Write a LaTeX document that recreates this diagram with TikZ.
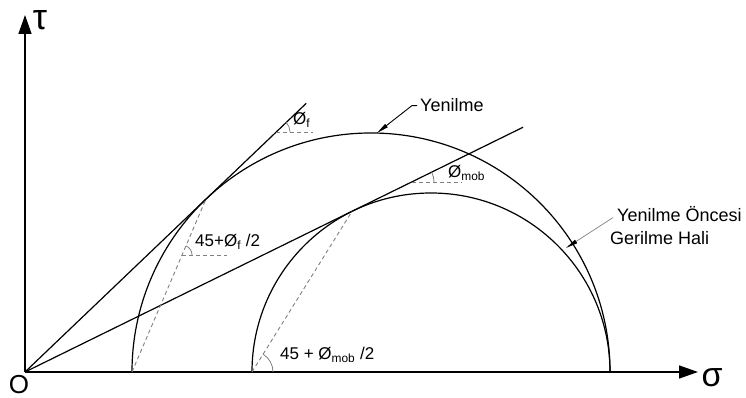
\documentclass[tikz,border=0pt]{standalone}
\usepackage{fontspec}
\setmainfont{Liberation Sans}
\usetikzlibrary{arrows.meta}
\begin{document}
\begin{tikzpicture}[x=1pt,y=1pt,
    axis/.style={line width=1.4pt,-{Triangle[length=19pt,width=13pt]}},
    mohr/.style={line width=1.2pt},
    aux/.style={gray,line width=0.9pt,dash pattern=on 4pt off 3pt},
    angarc/.style={gray,line width=0.8pt},
    lbl/.style={font=\fontsize{18}{20}\selectfont,inner sep=0pt},
    ang/.style={font=\fontsize{17}{19}\selectfont,inner sep=0pt},
    lead/.style={line width=0.9pt,-{Triangle[length=12pt,width=4pt]}}]
    \useasboundingbox (-25,-26) rectangle (721,372);
    % axes
    \coordinate (O) at (0,0);
    \coordinate (tautip) at (0,357);
    \coordinate (sigtip) at (673,0);
    \draw[axis] (O) -- (tautip);
    \draw[axis] (O) -- (sigtip);
    \node[font=\fontsize{36}{38}\selectfont,inner sep=0pt] (taulbl) at (15,352) {τ};
    \node[font=\fontsize{34}{36}\selectfont,inner sep=0pt] (siglbl) at (687,-6) {σ};
    \node[font=\fontsize{26}{28}\selectfont,inner sep=0pt] (olbl) at (-6,-13) {O};
    % mohr circles
    \coordinate (pb) at (107,0);
    \coordinate (ps) at (227,0);
    \draw[mohr] (pb) arc[start angle=180,end angle=0,radius=239];
    \draw[mohr] (ps) arc[start angle=180,end angle=0,radius=179];
    % envelopes and poles
    \coordinate (ef) at (43.69:389);
    \coordinate (em) at (26.17:555);
    \coordinate (tf) at (43.69:250.2);
    \coordinate (tm) at (26.17:364.4);
    \draw[mohr] (O) -- (ef);
    \draw[mohr] (O) -- (em);
    \draw[aux] (pb) -- (tf);
    \draw[aux] (ps) -- (tm);
    % angles
    \coordinate (af) at (157,117);
    \draw[aux] (af) -- ++(45,0);
    \draw[angarc] ([shift={(0:10)}]af) arc[start angle=0,end angle=66.8,radius=10];
    \draw[angarc] ([shift={(0:21)}]ps) arc[start angle=0,end angle=58.1,radius=21];
    \coordinate (pf) at (251,240);
    \draw[aux] (pf) -- ++(37,0);
    \draw[angarc] ([shift={(0:14)}]pf) arc[start angle=0,end angle=43.69,radius=14];
    \coordinate (pm) at (387,190);
    \draw[aux] (pm) -- ++(50,0);
    \draw[angarc] ([shift={(0:22)}]pm) arc[start angle=0,end angle=26.17,radius=22];
    \node[ang,anchor=base west] (lf) at (268,247) {Ø\textsubscript{f}};
    \node[ang,anchor=base west] (lm) at (423,194) {Ø\textsubscript{mob}};
    \node[ang,anchor=base west] (lbf) at (170,125) {45+Ø\textsubscript{f} /2};
    \node[ang,anchor=base west] (lbm) at (255,12) {45 + Ø\textsubscript{mob} /2};
    % labels
    \node[lbl,anchor=base west] (yen) at (395,260) {Yenilme};
    \node[lbl,anchor=base west] (onc1) at (592,150) {Yenilme Öncesi};
    \node[lbl,anchor=base west] (onc2) at (585,127) {Gerilme Hali};
    \coordinate (yt) at (352,239);
    \coordinate (ot) at (541,124);
    \draw[lead] ([xshift=-3pt]yen.west) -- ++(-5,0) -- (yt);
    \draw[gray,line width=0.7pt,-{Triangle[length=12pt,width=4pt,color=black]}] ([shift={(-4,-3)}]onc1.west) -- (ot);
\end{tikzpicture}
\end{document}
